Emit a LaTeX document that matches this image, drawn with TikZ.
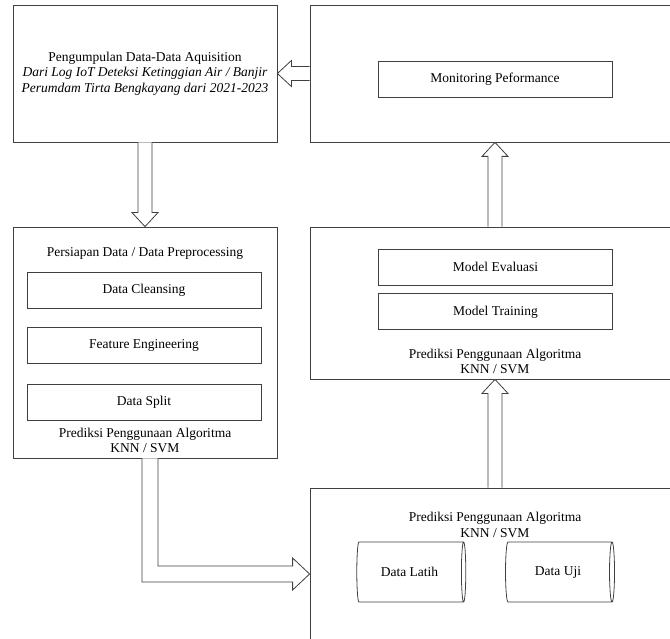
\documentclass[tikz,border=0pt]{standalone}
\usepackage{fontspec}
\setmainfont{Liberation Serif}
\usetikzlibrary{positioning,shapes.geometric,calc}
\tikzstyle{frame} = [rectangle, draw=black!75, line width=0.8pt, inner sep=0pt, align=center]
\tikzstyle{inbox} = [rectangle, draw=black!75, line width=0.8pt, minimum width=234pt, minimum height=36pt, align=center]
\tikzstyle{store} = [cylinder, draw=black!75, line width=0.8pt, shape aspect=0.27, minimum height=109pt, minimum width=60pt]
\tikzstyle{fat} = [draw=black!75, line width=0.8pt, line join=miter, fill=white]
\tikzstyle{lbl} = [align=center, inner sep=0pt]

% hollow block arrow from #1 to #2
\newcommand{\fatarrow}[2]{%
  \draw[fat] ($(#1)!7pt!90:(#2)$) -- ($(#2)!14pt!(#1)!7pt!-90:(#1)$)
    -- ($(#2)!14pt!(#1)!13pt!-90:(#1)$) -- (#2)
    -- ($(#2)!14pt!(#1)!13pt!90:(#1)$) -- ($(#2)!14pt!(#1)!7pt!90:(#1)$)
    -- ($(#1)!7pt!-90:(#2)$);}

\begin{document}
\begin{tikzpicture}[x=1pt, y=-1pt, node distance=19pt, font=\fontsize{13.5}{15.5}\selectfont]
\useasboundingbox (0,0) rectangle (670,639);

% outer frames
\node[frame, minimum width=264pt, minimum height=137pt] (acq) at (145,73.5)
  {Pengumpulan Data-Data Aquisition\\\textit{Dari Log IoT Deteksi Ketinggian Air / Banjir}\\\textit{Perumdam Tirta Bengkayang dari 2021-2023}};
\node[frame, minimum width=370pt, minimum height=137pt] (mon) at (495,73.5) {};
\node[frame, minimum width=264pt, minimum height=231pt] (prep) at (145,342.5) {};
\node[frame, minimum width=370pt, minimum height=152pt] (model) at (495,303) {};
\node[frame, minimum width=370pt, minimum height=172pt] (data) at (495,574) {};

% monitoring
\node[inbox] (perf) at (495,79) {Monitoring Peformance};

% preprocessing
\node[lbl] (preptitle) at (145,253) {Persiapan Data / Data Preprocessing};
\node[inbox] (clean) at (144,290) {Data Cleansing};
\node[inbox, below=of clean] (feat) {Feature Engineering};
\node[inbox, below=20pt of feat] (split) {Data Split};
\node[lbl] (prepalg) at (145,440.5) {Prediksi Penggunaan Algoritma\\KNN / SVM};

% model
\node[inbox] (eval) at (495.5,267) {Model Evaluasi};
\node[inbox, below=8pt of eval] (train) {Model Training};
\node[lbl] (modelalg) at (495,361.5) {Prediksi Penggunaan Algoritma\\KNN / SVM};

% data
\node[lbl] (dataalg) at (495,525) {Prediksi Penggunaan Algoritma\\KNN / SVM};
\node[store] (latih) at (409.5,572) {Data Latih};
\node[store] (uji) at (558,572) {Data Uji};

% block arrows
\fatarrow{acq.south}{prep.north}
\fatarrow{mon.west}{acq.east}
\fatarrow{model.north}{mon.south}
\fatarrow{data.north}{model.south}

\coordinate (bend) at (150,574);
\coordinate (bendtop) at (bend |- prep.south);
\coordinate (tip) at (data.west |- bend);
\draw[fat] ([xshift=-8pt]bendtop) -- ([xshift=-8pt,yshift=-8pt]bend)
  -- ([xshift=-17pt,yshift=-8pt]tip) -- ([xshift=-17pt,yshift=-16pt]tip)
  -- (tip) -- ([xshift=-17pt,yshift=16pt]tip) -- ([xshift=-17pt,yshift=8pt]tip)
  -- ([xshift=8pt,yshift=8pt]bend) -- ([xshift=8pt]bendtop);
\end{tikzpicture}
\end{document}
